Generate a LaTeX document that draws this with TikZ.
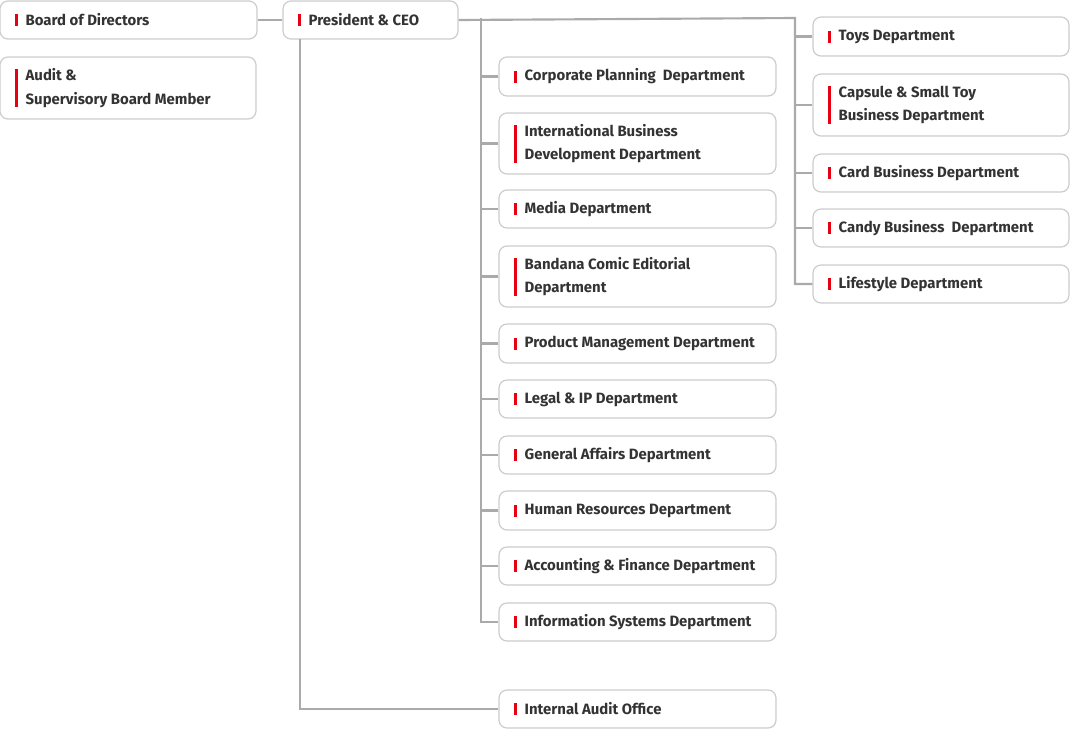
\documentclass[tikz,border=0pt]{standalone}
\usepackage{fontspec}
\setmainfont{Fira Sans}
\usetikzlibrary{positioning,calc}
\definecolor{linegray}{HTML}{AAAAAA}
\definecolor{framegray}{HTML}{CCCCCC}
\definecolor{barred}{HTML}{E60012}
\definecolor{txt}{HTML}{333333}
% frame + bar + text of one unit: name, left x, right x, top y, bottom y, bar height, text
\newcommand\orgunit[7]{%
  \node[unitframe, minimum width={(#3-#2)*0.75pt}, minimum height={(#5-#4)*0.75pt}] (#1) at ({(#2+#3)/2},{(#4+#5)/2}) {};
  \fill[barred] ($(#1.west)+(16,-#6/2)$) rectangle ++(3,#6);
  \node[unittext, anchor=west] (#1-t) at ($(#1.west)+(26,0)$) {#7};}
\begin{document}
\begin{tikzpicture}[x=0.75pt,y=-0.75pt,
    unitframe/.style={draw=framegray, line width=0.9pt, rounded corners=6pt, fill=white, inner sep=0pt},
    unittext/.style={text=txt, font=\fontsize{11.2}{17.5}\selectfont\bfseries, align=left, inner sep=0pt},
    link/.style={draw=linegray, line width=1.6pt}
]
    \useasboundingbox (0,0) rectangle (1070,729);
    % top level
    \orgunit{board}{0}{257}{1}{39}{12}{Board of Directors}
    \orgunit{auditor}{0}{256}{57}{119}{38}{Audit \&\\Supervisory Board Member}
    \orgunit{ceo}{283}{458}{1}{39}{12}{President \& CEO}
    % middle column
    \orgunit{corp}{499}{776}{57}{96}{12}{Corporate Planning\ \ Department}
    \orgunit{intl}{499}{776}{113}{174}{38}{International Business\\Development Department}
    \orgunit{media}{499}{776}{190}{228}{12}{Media Department}
    \orgunit{comic}{499}{776}{246}{307}{38}{Bandana Comic Editorial\\Department}
    \orgunit{product}{499}{776}{324}{363}{12}{Product Management Department}
    \orgunit{legal}{499}{776}{380}{418}{12}{Legal \& IP Department}
    \orgunit{general}{499}{776}{436}{474}{12}{General Affairs Department}
    \orgunit{hr}{499}{776}{491}{530}{12}{Human Resources Department}
    \orgunit{finance}{499}{776}{547}{585}{12}{Accounting \& Finance Department}
    \orgunit{infosys}{499}{776}{603}{641}{12}{Information Systems Department}
    \orgunit{internal}{499}{776}{690}{728}{12}{Internal Audit Office}
    % right column
    \orgunit{toys}{813}{1069}{17}{56}{12}{Toys Department}
    \orgunit{capsule}{813}{1069}{74}{136}{38}{Capsule \& Small Toy\\Business Department}
    \orgunit{card}{813}{1069}{154}{192}{12}{Card Business Department}
    \orgunit{candy}{813}{1069}{209}{247}{12}{Candy Business\ \ Department}
    \orgunit{life}{813}{1069}{265}{303}{12}{Lifestyle Department}
    % connectors
    \coordinate (ceo-r) at (795,18);
    \coordinate (ceo-m) at (481,18);
    \coordinate (ceo-b) at (300,39);
    \draw[link] (board) -- (ceo);
    \draw[link] (ceo.east) -- (ceo-r) |- (life.west);
    \draw[link] (ceo-m) |- (infosys.west);
    \draw[link] (ceo-b) |- (internal.west);
    \foreach \u in {toys,capsule,card,candy}
        \draw[link] (\u.west) -- ++(-18,0);
    \foreach \u in {corp,intl,media,comic,product,legal,general,hr,finance}
        \draw[link] (\u.west) -- ++(-18,0);
\end{tikzpicture}
\end{document}
